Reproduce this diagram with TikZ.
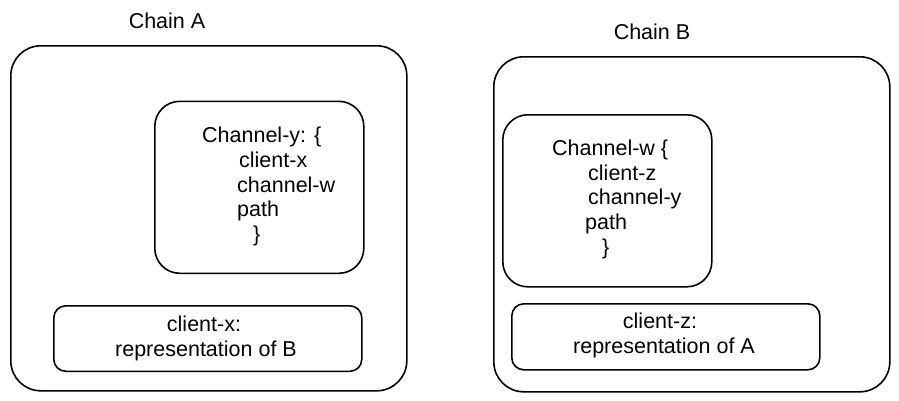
\documentclass[tikz,border=0pt]{standalone}
\usepackage{fontspec}
\setmainfont{Liberation Sans}
\begin{document}
\begin{tikzpicture}[x=1pt,y=-1pt,
  box/.style={draw, line width=1.6pt, inner sep=0pt, anchor=north west},
  outerbox/.style={box, rounded corners=30pt},
  chanbox/.style={box, rounded corners=25pt},
  clientbox/.style={box, rounded corners=12pt},
  txt/.style={inner sep=0pt, anchor=base west, font=\fontsize{21.5}{25}\selectfont},
  ctxt/.style={txt, anchor=base}]
\useasboundingbox (0,0) rectangle (899,400);
% Chain A
\node[ctxt] (titleA) at (167,28) {Chain A};
\node[outerbox, minimum width=396pt, minimum height=345pt] (outerA) at (10,45) {};
\node[chanbox, minimum width=209pt, minimum height=172pt] (chanA) at (154,100.5) {};
\node[clientbox, minimum width=308pt, minimum height=65.5pt] (clientA) at (53,305) {};
\node[txt] (a1) at (202,142) {Channel-y: \{};
\node[txt] (a2) at (239,167) {client-x};
\node[txt] (a3) at (237,192) {channel-w};
\node[txt] (a4) at (237,216.5) {path};
\node[txt] (a5) at (253,241) {\}};
\node[ctxt] (ca1) at (204,331) {client-x:};
\node[ctxt] (ca2) at (206,356) {representation of B};
% Chain B
\node[ctxt] (titleB) at (652,39) {Chain B};
\node[outerbox, minimum width=396pt, minimum height=335pt] (outerB) at (493,56) {};
\node[chanbox, minimum width=209pt, minimum height=172pt] (chanB) at (502,114) {};
\node[clientbox, minimum width=308pt, minimum height=66pt] (clientB) at (511,303) {};
\node[txt] (b1) at (552,155) {Channel-w \{};
\node[txt] (b2) at (588,180) {client-z};
\node[txt] (b3) at (588,204) {channel-y};
\node[txt] (b4) at (585,229) {path};
\node[txt] (b5) at (602,254) {\}};
\node[ctxt] (cb1) at (660,328) {client-z:};
\node[ctxt] (cb2) at (664,353) {representation of A};
\end{tikzpicture}
\end{document}
